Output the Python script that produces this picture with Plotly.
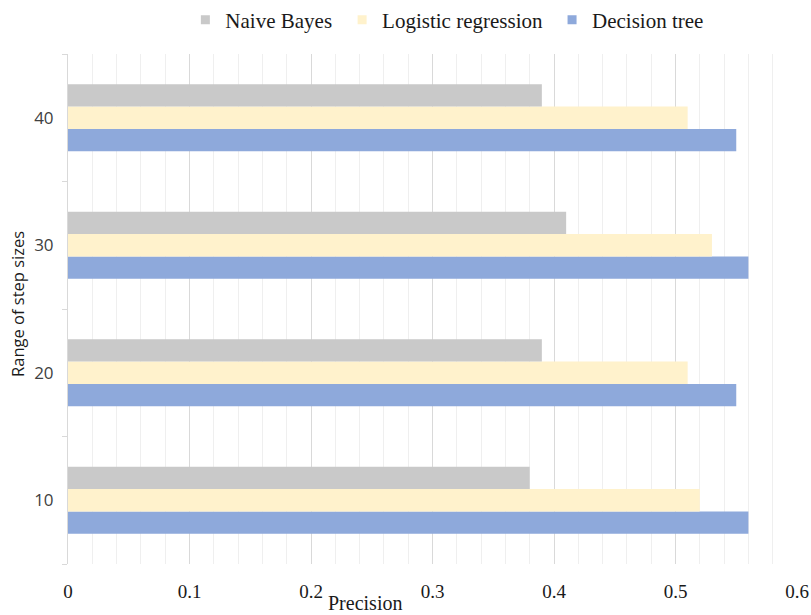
import plotly.graph_objects as go

# Precision of three classifiers for each range of step sizes
step_ranges = ["10", "20", "30", "40"]
naive_bayes = [0.38, 0.39, 0.41, 0.39]
logistic_regression = [0.52, 0.51, 0.53, 0.51]
decision_tree = [0.56, 0.55, 0.56, 0.55]

series_names = ["Naive Bayes", "Logistic regression", "Decision tree"]
series_colors = ["#C9C9C9", "#FFF2CC", "#8EA9DB"]
x_ticks = [0, 0.1, 0.2, 0.3, 0.4, 0.5, 0.6]

fig = go.Figure()

# Plotly stacks grouped horizontal bars bottom-up, so add them in reverse
for name, vals, color in reversed(list(zip(series_names,
                                            [naive_bayes, logistic_regression, decision_tree],
                                            series_colors))):
    fig.add_trace(go.Bar(
        y=step_ranges, x=vals, name=name, orientation="h",
        marker=dict(color=color, line=dict(width=0)),
        showlegend=False,
    ))

serif = "Liberation Serif"
text_color = "#1A1A1A"

# One legend per series so each key sits at its own position along the top
legend_ids = ["legend", "legend2", "legend3"]
legend_x = [0.161, 0.376, 0.664]
legend_layouts = {}
for name, color, lid, lx in zip(series_names, series_colors, legend_ids, legend_x):
    fig.add_trace(go.Scatter(
        x=[None], y=[None], mode="markers", name=name,
        marker=dict(symbol="square", size=9, color=color),
        showlegend=True, legend=lid,
    ))
    legend_layouts[lid] = dict(
        orientation="h", x=lx, xanchor="left",
        y=1 - 20 / 615, yref="container", yanchor="middle",
        font=dict(family=serif, size=21, color=text_color),
        itemwidth=30, bgcolor="rgba(0,0,0,0)",
    )

fig.update_layout(
    width=811, height=615,
    margin=dict(l=68, r=14, t=54, b=51),
    plot_bgcolor="white", paper_bgcolor="white",
    barmode="group", bargap=0.475, bargroupgap=0,
    xaxis=dict(
        range=[0, 0.6], tickvals=x_ticks, ticktext=[f"{v:g}" for v in x_ticks],
        showgrid=True, gridcolor="#D9D9D9", gridwidth=1,
        minor=dict(dtick=0.02, showgrid=True, gridcolor="#EFEFEF", gridwidth=1),
        zeroline=False, showline=False, ticks="",
        tickfont=dict(family=serif, size=19, color=text_color),
        ticklabelstandoff=14, automargin=False,
    ),
    yaxis=dict(
        type="category", categoryorder="array", categoryarray=step_ranges,
        showgrid=False, zeroline=False,
        showline=True, linecolor="#D9D9D9", linewidth=1,
        tickson="boundaries", ticks="outside", ticklen=5, tickcolor="#D9D9D9",
        tickfont=dict(family="Open Sans", size=17, color="#404040"),
        ticklabelstandoff=10, automargin=False,
    ),
    annotations=[
        dict(text="Precision", xref="paper", yref="paper", x=0.407, y=-0.0765,
             xanchor="center", yanchor="middle", showarrow=False,
             font=dict(family=serif, size=20, color=text_color)),
        dict(text="Range of step sizes", xref="paper", yref="paper", x=-0.0686, y=0.51,
             xanchor="center", yanchor="middle", showarrow=False, textangle=-90,
             font=dict(family="Open Sans", size=16.5, color=text_color)),
    ],
    **legend_layouts,
)

fig.write_html("out.html")
